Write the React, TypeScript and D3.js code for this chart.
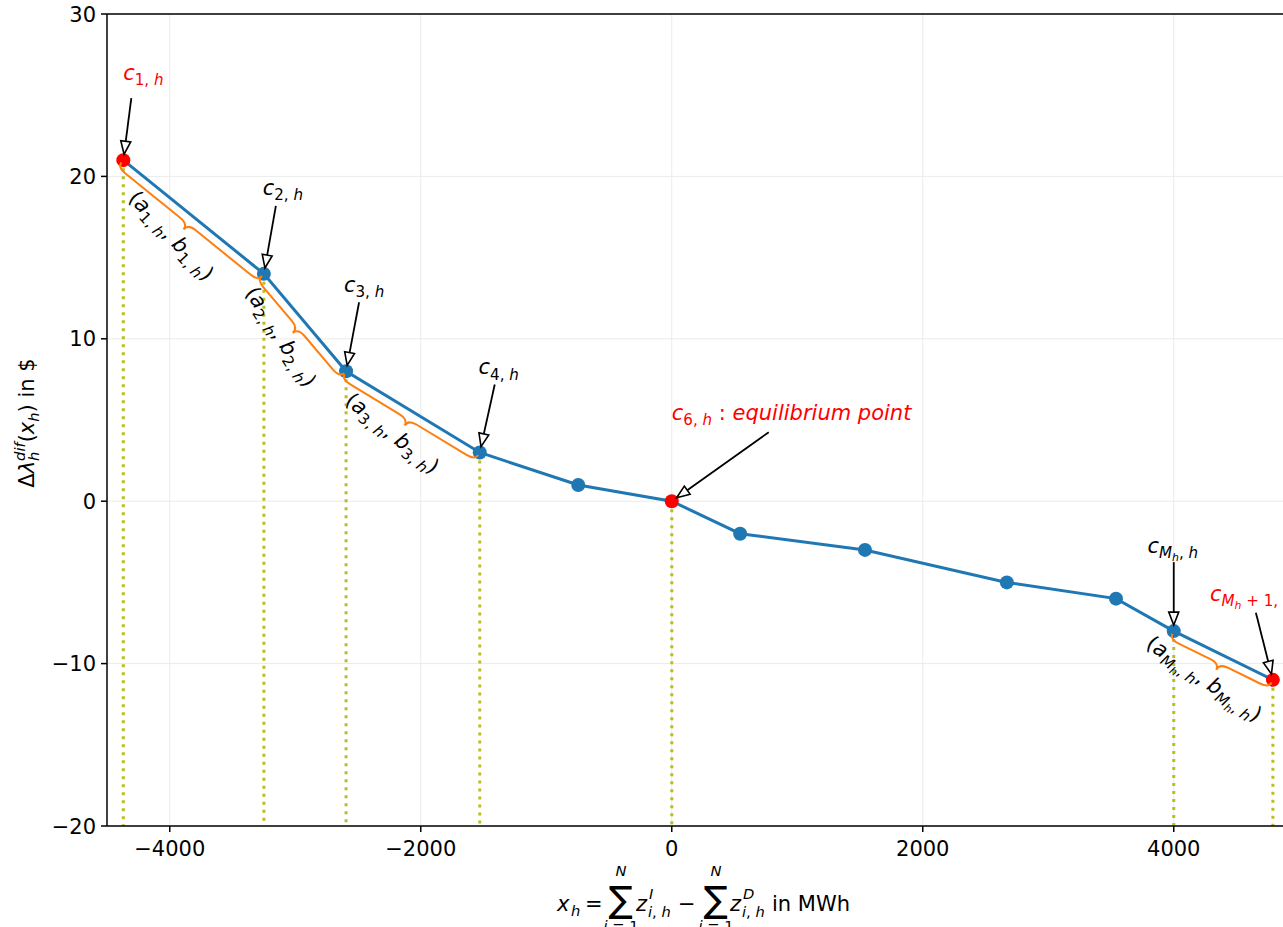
import React from "react";
import * as d3 from "d3";

// data
const xVals = [-4370, -3250, -2595, -1530, -745, 0, 545, 1540, 2670, 3540, 4000, 4790];
const yVals = [21, 14, 8, 3, 1, 0, -2, -3, -5, -6, -8, -11];
const redIdx = [0, 5, 11];
const dropIdx = [0, 1, 2, 3, 5, 10, 11];
const braceIdx = [0, 1, 2, 10]; // brace from i to i+1
const xTicks = [-4000, -2000, 0, 2000, 4000];
const yTicks = [-20, -10, 0, 10, 20, 30];

type Piece = [string, number, boolean]; // text, level (0 base, 1 sub, 2 subsub, -1 sup), italic

const F = 21;
const FONT = "DejaVu Sans";
const sizeOf = (l: number) => (l === 0 ? F : l === 2 ? F * 0.52 : F * 0.72);
const shiftOf = (l: number) => (l === 0 ? 0 : l === 1 ? F * 0.24 : l === 2 ? F * 0.38 : -F * 0.42);

function MathText({ pieces, x, y, anchor = "middle", fill = "black", rotate = 0 }: any) {
  let cur = 0;
  return (
    <text
      x={x}
      y={y}
      textAnchor={anchor}
      fill={fill}
      fontFamily={FONT}
      transform={rotate ? `rotate(${rotate},${x},${y})` : undefined}
    >
      {pieces.map((p: Piece, i: number) => {
        const s = shiftOf(p[1]);
        const dy = s - cur;
        cur = s;
        return (
          <tspan key={i} dy={dy} fontSize={sizeOf(p[1])} fontStyle={p[2] ? "italic" : "normal"}>
            {p[0]}
          </tspan>
        );
      })}
    </text>
  );
}

const cLabel = (n: string): Piece[] => [["c", 0, true], [n + ", ", 1, false], ["h", 1, true]];
const cM: Piece[] = [["c", 0, true], ["M", 1, true], ["h", 2, true], [", ", 1, false], ["h", 1, true]];
const cM1: Piece[] = [["c", 0, true], ["M", 1, true], ["h", 2, true], [" + 1, ", 1, false], ["h", 1, true]];
const abLabel = (n: string): Piece[] => [
  ["(", 0, false], ["a", 0, true], [n + ", ", 1, false], ["h", 1, true],
  [", ", 0, false], ["b", 0, true], [n + ", ", 1, false], ["h", 1, true], [")", 0, false],
];
const abM: Piece[] = [
  ["(", 0, false], ["a", 0, true], ["M", 1, true], ["h", 2, true], [", ", 1, false], ["h", 1, true],
  [", ", 0, false], ["b", 0, true], ["M", 1, true], ["h", 2, true], [", ", 1, false], ["h", 1, true], [")", 0, false],
];

// annotation: point index, label pieces, colour, label offset, arrow tail offset, anchor
const notes: any[] = [
  { i: 0, p: cLabel("1"), col: "red", lx: 20, ly: -80, tx: 8, ty: -62, a: "middle" },
  { i: 1, p: cLabel("2"), col: "black", lx: 19, ly: -79, tx: 12, ty: -68, a: "middle" },
  { i: 2, p: cLabel("3"), col: "black", lx: 18, ly: -79, tx: 13, ty: -69, a: "middle" },
  { i: 3, p: cLabel("4"), col: "black", lx: 19, ly: -78, tx: 15, ty: -68, a: "middle" },
  {
    i: 5,
    p: [...cLabel("6"), [" :  ", 0, false], ["equilibrium point", 0, true]],
    col: "red", lx: 0, ly: -81, tx: 97, ty: -69, a: "start",
  },
  { i: 10, p: cM, col: "black", lx: -1, ly: -78, tx: 0, ty: -69, a: "middle" },
  { i: 11, p: cM1, col: "red", lx: -63, ly: -79, tx: -17, ty: -67, a: "start" },
];
const abLabels = [abLabel("1"), abLabel("2"), abLabel("3"), abM];

const W = 1283;
const H = 927;

export default function App() {
  const x = d3.scaleLinear().domain([-4500, 4900]).range([107, 107 + 9400 * 0.1255]);
  const y = d3.scaleLinear().domain([-20, 30]).range([826, 14]);
  const pts = xVals.map((v, i) => [x(v), y(yVals[i])]);
  const line = d3.line()(pts as [number, number][]) || "";
  const left = x(-4500);
  const right = W + 20;

  const brace = (k: number) => {
    const [x0, y0] = pts[k];
    const [x1, y1] = pts[k + 1];
    const L = Math.hypot(x1 - x0, y1 - y0);
    const deg = (Math.atan2(y1 - y0, x1 - x0) * 180) / Math.PI;
    const w = 9, c = 7, r = 10, s = 3;
    const m = L / 2;
    const d = `M0,${s} Q0,${w} ${r},${w} L${m - r},${w} Q${m},${w} ${m},${w + c} Q${m},${w} ${m + r},${w} L${L - r},${w} Q${L},${w} ${L},${s}`;
    const ux = (x1 - x0) / L, uy = (y1 - y0) / L;
    const nx = -uy, ny = ux;
    const cx = x0 + ux * (m - 11) + nx * 30;
    const cy = y0 + uy * (m - 11) + ny * 30;
    return { d, deg, x0, y0, cx, cy };
  };

  const arrow = (n: any) => {
    const [px, py] = pts[n.i];
    const tx = px + n.tx, ty = py + n.ty;
    const dx = px - tx, dy = py - ty;
    const L = Math.hypot(dx, dy);
    const ux = dx / L, uy = dy / L;
    const ex = px - ux * 6, ey = py - uy * 6; // tip, shrunk off the point
    const hl = 13, hw = 5;
    const bx = ex - ux * hl, by = ey - uy * hl;
    const head = `M${ex},${ey} L${bx - uy * hw},${by + ux * hw} L${bx + uy * hw},${by - ux * hw} Z`;
    return { tx, ty, bx, by, head };
  };

  return (
    <svg width={W} height={H} style={{ position: "absolute", left: 0, top: 0, background: "white" }}>
      {/* grid */}
      <g stroke="#ebebeb" strokeWidth={1}>
        {xTicks.map((t) => (
          <line key={t} x1={x(t)} x2={x(t)} y1={y(30)} y2={y(-20)} />
        ))}
        {yTicks.map((t) => (
          <line key={t} x1={left} x2={right} y1={y(t)} y2={y(t)} />
        ))}
      </g>

      {/* drop lines */}
      <g stroke="#bcbd22" strokeWidth={3} strokeDasharray="3 5">
        {dropIdx.map((i) => (
          <line key={i} x1={pts[i][0]} x2={pts[i][0]} y1={pts[i][1]} y2={y(-20)} />
        ))}
      </g>

      <path d={line} fill="none" stroke="#1f77b4" strokeWidth={3} />
      {pts.map((p, i) => (
        <circle key={i} cx={p[0]} cy={p[1]} r={7} fill={redIdx.includes(i) ? "red" : "#1f77b4"} />
      ))}

      {/* braces and their labels */}
      {braceIdx.map((k, j) => {
        const b = brace(k);
        return (
          <g key={k}>
            <path
              d={b.d}
              transform={`translate(${b.x0},${b.y0}) rotate(${b.deg})`}
              fill="none"
              stroke="#ff7f0e"
              strokeWidth={2}
            />
            <MathText pieces={abLabels[j]} x={b.cx} y={b.cy + 7} rotate={b.deg + 8} />
          </g>
        );
      })}

      {/* annotations */}
      {notes.map((n, j) => {
        const a = arrow(n);
        const [px, py] = pts[n.i];
        return (
          <g key={j}>
            <line x1={a.tx} y1={a.ty} x2={a.bx} y2={a.by} stroke="black" strokeWidth={1.8} />
            <path d={a.head} fill="none" stroke="black" strokeWidth={1.6} strokeLinejoin="miter" />
            <MathText pieces={n.p} x={px + n.lx} y={py + n.ly} anchor={n.a} fill={n.col} />
          </g>
        );
      })}

      {/* spines */}
      <g stroke="black" strokeWidth={1.5} fill="none">
        <line x1={left} x2={left} y1={y(30)} y2={y(-20)} />
        <line x1={left} x2={right} y1={y(30)} y2={y(30)} />
        <line x1={left} x2={right} y1={y(-20)} y2={y(-20)} />
      </g>

      {/* y axis */}
      {yTicks.map((t) => (
        <g key={t}>
          <line x1={left - 6} x2={left} y1={y(t)} y2={y(t)} stroke="black" strokeWidth={1.5} />
          <text x={left - 11} y={y(t)} dy="0.36em" textAnchor="end" fontFamily={FONT} fontSize={F}>
            {d3.format("d")(t).replace("-", "\u2212")}
          </text>
        </g>
      ))}
      {/* x axis */}
      {xTicks.map((t) => (
        <g key={t}>
          <line x1={x(t)} x2={x(t)} y1={y(-20)} y2={y(-20) + 6} stroke="black" strokeWidth={1.5} />
          <text x={x(t)} y={y(-20) + 30} textAnchor="middle" fontFamily={FONT} fontSize={F}>
            {d3.format("d")(t).replace("-", "\u2212")}
          </text>
        </g>
      ))}

      {/* y label */}
      <text x={34} y={423} textAnchor="middle" fontFamily={FONT} fontSize={F} transform="rotate(-90,34,423)">
        <tspan>Δ</tspan>
        <tspan fontStyle="italic">λ</tspan>
        <tspan fontStyle="italic" fontSize={F * 0.7} dy={F * 0.26}>h</tspan>
        <tspan fontStyle="italic" fontSize={F * 0.7} dx={-F * 0.7 * 0.634} dy={-F * 0.7}>dif</tspan>
        <tspan dy={F * 0.44}>(</tspan>
        <tspan fontStyle="italic">x</tspan>
        <tspan fontStyle="italic" fontSize={F * 0.7} dy={F * 0.24}>h</tspan>
        <tspan dy={-F * 0.24}>) in $</tspan>
      </text>

      {/* x label */}
      <g fontFamily={FONT} fill="black">
        <text x={557} y={911} fontSize={F} fontStyle="italic">x</text>
        <text x={571} y={916} fontSize={F * 0.7} fontStyle="italic">h</text>
        <text x={585} y={911} fontSize={F}>=</text>
        <text x={621} y={912} fontSize={36} textAnchor="middle">∑</text>
        <text x={621} y={876} fontSize={F * 0.7} textAnchor="middle" fontStyle="italic">N</text>
        <text x={621} y={931} fontSize={F * 0.7} textAnchor="middle">
          <tspan fontStyle="italic">i</tspan> = 1
        </text>
        <text x={636} y={911} fontSize={F} fontStyle="italic">z</text>
        <text x={649} y={899} fontSize={F * 0.7} fontStyle="italic">I</text>
        <text x={648} y={917} fontSize={F * 0.7}>
          <tspan fontStyle="italic">i</tspan>, <tspan fontStyle="italic">h</tspan>
        </text>
        <text x={678} y={911} fontSize={F}>−</text>
        <text x={716} y={912} fontSize={36} textAnchor="middle">∑</text>
        <text x={716} y={876} fontSize={F * 0.7} textAnchor="middle" fontStyle="italic">N</text>
        <text x={716} y={931} fontSize={F * 0.7} textAnchor="middle">
          <tspan fontStyle="italic">i</tspan> = 1
        </text>
        <text x={730} y={911} fontSize={F} fontStyle="italic">z</text>
        <text x={743} y={899} fontSize={F * 0.7} fontStyle="italic">D</text>
        <text x={742} y={917} fontSize={F * 0.7}>
          <tspan fontStyle="italic">i</tspan>, <tspan fontStyle="italic">h</tspan>
        </text>
        <text x={772} y={911} fontSize={F}>in MWh</text>
      </g>
    </svg>
  );
}
